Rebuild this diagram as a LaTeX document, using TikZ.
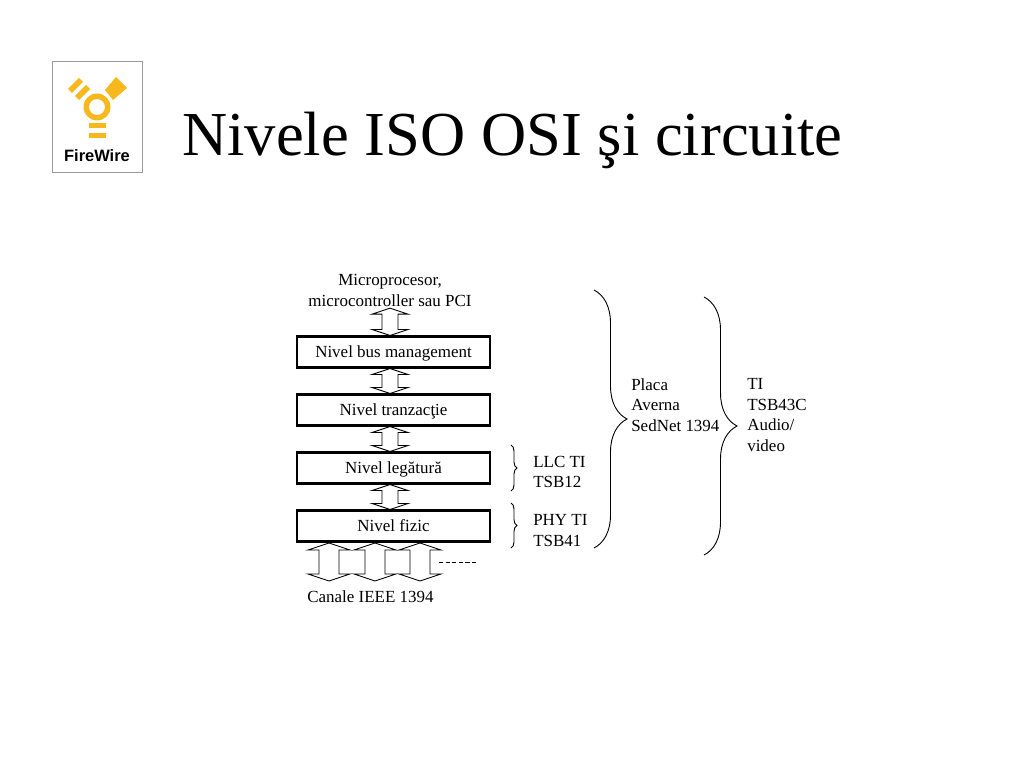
\documentclass[tikz,border=0pt]{standalone}
\usepackage{fontspec}
\setmainfont{Liberation Serif}
\newfontfamily\logofont{Liberation Sans}
\usetikzlibrary{calc,decorations.pathreplacing}
\definecolor{fwyellow}{HTML}{F7B81E}
\definecolor{fwgray}{HTML}{9A9A9A}
\begin{document}
\begin{tikzpicture}[x=0.025cm,y=-0.025cm,font=\fontsize{12.07}{14.6}\selectfont,
level/.style={shape=rectangle,draw,line width=1.5pt,minimum width=137pt,minimum height=22pt,text height=10.2pt,text depth=3pt,align=center,inner sep=0pt},
label/.style={align=left,anchor=west,inner sep=0pt},
blockarrow/.style n args={3}{line width=0.65pt,to path={(\tikztostart) -- ($(\tikztostart)+(-#2,#3)$) -- ($(\tikztostart)+(-#1,#3)$) -- ($(\tikztotarget)+(-#1,-#3)$) -- ($(\tikztotarget)+(-#2,-#3)$) -- (\tikztotarget) -- ($(\tikztotarget)+(#2,-#3)$) -- ($(\tikztotarget)+(#1,-#3)$) -- ($(\tikztostart)+(#1,#3)$) -- ($(\tikztostart)+(#2,#3)$) -- cycle}},
bus/.style={blockarrow={8}{18}{6}},
chan/.style={blockarrow={10}{21}{7}},
curly/.style={decorate,decoration={brace,amplitude=#1*0.025cm},line width=0.65pt}]
\useasboundingbox (0,0) rectangle (1024,768);

\node(logo)[shape=rectangle,draw=fwgray,line width=0.8pt,minimum width=63.5pt,minimum height=79.5pt,inner sep=0pt] at (97.5,117){};
\fill[fwyellow,even odd rule] (97,107) circle (13.5) (97,107) circle (8);
\fill[fwyellow] (116,77) -- (127,88) -- (113,100) -- (105,90) -- cycle;
\fill[fwyellow] (68,89) -- (79,78) -- (83,82) -- (72,93) -- cycle;
\fill[fwyellow] (75,96) -- (86,85) -- (90,89) -- (79,100) -- cycle;
\fill[fwyellow] (89,123) rectangle (106,128.5);
\fill[fwyellow] (89,133) rectangle (106,138.5);
\node(fw)[inner sep=0pt,font=\logofont\fontsize{11.7}{14}\selectfont\bfseries] at (97,156){FireWire};

\node(title)[inner sep=0pt,anchor=base west,font=\fontsize{44.5}{50}\selectfont] at (182,155){Nivele ISO OSI şi circuite};

\node(mp)[align=center,inner sep=1pt] at (390,290.5){Microprocesor,\\ microcontroller sau PCI};
\node(bm)[level] at (393.5,352){Nivel bus management};
\node(tz)[level] at (393.5,410){Nivel tranzacţie};
\node(lg)[level] at (393.5,468){Nivel legătură};
\node(fz)[level] at (393.5,526){Nivel fizic};
\node(can)[inner sep=0pt] at (370.5,597){Canale IEEE 1394};

\draw[bus] (mp.south) to (bm.north -| mp);
\draw[bus] (bm.south -| mp) to (tz.north -| mp);
\draw[bus] (tz.south -| mp) to (lg.north -| mp);
\draw[bus] (lg.south -| mp) to (fz.north -| mp);

\coordinate(ch1t) at (329,543);
\coordinate(ch1b) at (329,581);
\coordinate(ch2t) at (375,543);
\coordinate(ch2b) at (375,581);
\coordinate(ch3t) at (420,543);
\coordinate(ch3b) at (420,581);
\draw[chan] (ch1t) to (ch1b);
\draw[chan] (ch2t) to (ch2b);
\draw[chan] (ch3t) to (ch3b);
\coordinate(dash1) at (439,562);
\coordinate(dash2) at (478,562);
\draw[line width=0.65pt,dash pattern=on 3pt off 1.7pt] (dash1)--(dash2);

\coordinate(llct) at (511,445);
\coordinate(llcb) at (511,491);
\coordinate(phyt) at (511,503);
\coordinate(phyb) at (511,548);
\coordinate(plat) at (594,290);
\coordinate(plab) at (594,548);
\coordinate(tit) at (704,297);
\coordinate(tib) at (704,555);
\draw[curly=6] (llct)--(llcb);
\draw[curly=6] (phyt)--(phyb);
\draw[curly=33] (plat)--(plab);
\draw[curly=33] (tit)--(tib);

\node(llc)[label] at (533,472){LLC TI\\ TSB12};
\node(phy)[label] at (533,530.5){PHY TI\\ TSB41};
\node(pla)[label] at (631,405){Placa\\ Averna\\ SedNet 1394};
\node(ti)[label] at (747,415){TI\\ TSB43C\\ Audio/\\ video};
\end{tikzpicture}
\end{document}
